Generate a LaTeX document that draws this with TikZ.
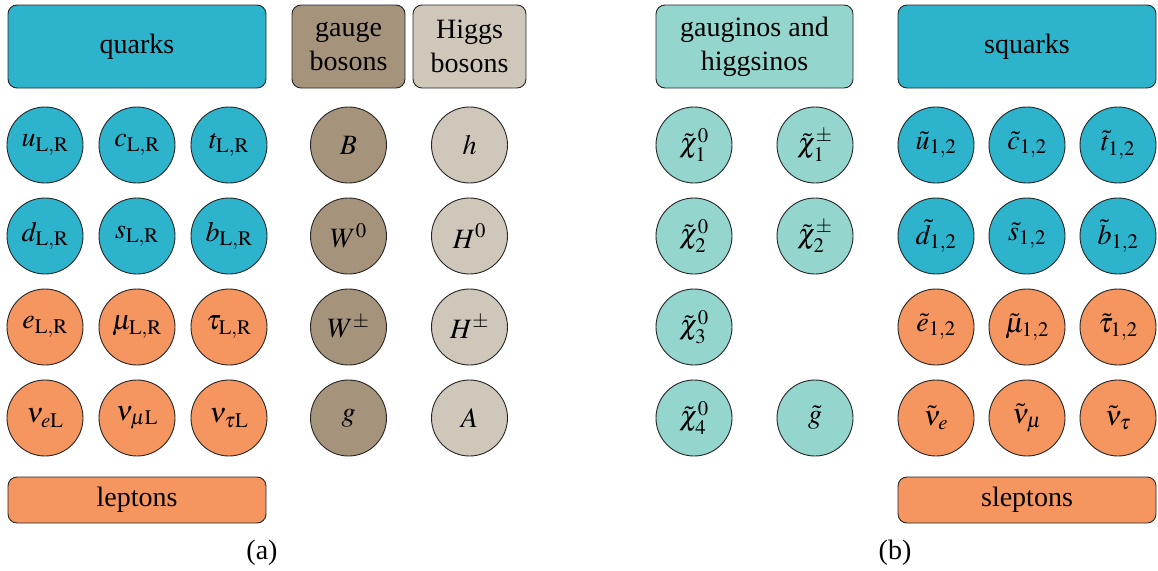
\documentclass[tikz,border=0pt]{standalone}
\usepackage{mathptmx}
\usepackage[no-math]{fontspec}
\setmainfont{Liberation Serif}
\newfontfamily\tnr{Liberation Serif}
\definecolor{cquark}{HTML}{2EB3CD}
\definecolor{clepton}{HTML}{F5955F}
\definecolor{cgauge}{HTML}{A6937C}
\definecolor{chiggs}{HTML}{D0C7BB}
\definecolor{cino}{HTML}{94D5CD}
\begin{document}
\begin{tikzpicture}[x=1pt,y=-1pt,
  every node/.style={font=\tnr\fontsize{28}{34}\selectfont},
  part/.style={circle,draw=black!85,line width=0.9pt,minimum size=76pt,inner sep=0pt},
  group/.style={draw=black!85,line width=0.9pt,rounded corners=9pt,inner sep=0pt,align=center,minimum height=83pt},
  lowgroup/.style={group,minimum height=46pt,minimum width=258pt},
  caplabel/.style={inner sep=0pt}]
\useasboundingbox (0,0) rectangle (1158,570);
% ---------- (a) ----------
\node[group,fill=cquark,minimum width=258pt] (quarks) at (137,46.5) {quarks};
\node[group,fill=cgauge,minimum width=113pt] (gauge) at (348.5,46.5) {gauge\\bosons};
\node[group,fill=chiggs,minimum width=113pt] (higgs) at (469.5,46.5) {Higgs\\bosons};
\node[lowgroup,fill=clepton] (leptons) at (137,500) {leptons};
\node[part,fill=cquark] (u) at (45,145) {$u_{\mathrm{L,R}}$};
\node[part,fill=cquark] (c) at (137,145) {$c_{\mathrm{L,R}}$};
\node[part,fill=cquark] (t) at (229,145) {$t_{\mathrm{L,R}}$};
\node[part,fill=cquark] (d) at (45,236) {$d_{\mathrm{L,R}}$};
\node[part,fill=cquark] (s) at (137,236) {$s_{\mathrm{L,R}}$};
\node[part,fill=cquark] (b) at (229,236) {$b_{\mathrm{L,R}}$};
\node[part,fill=clepton] (e) at (45,327) {$e_{\mathrm{L,R}}$};
\node[part,fill=clepton] (mu) at (137,327) {$\mu_{\mathrm{L,R}}$};
\node[part,fill=clepton] (tau) at (229,327) {$\tau_{\mathrm{L,R}}$};
\node[part,fill=clepton] (nue) at (45,418) {$\nu_{e\mathrm{L}}$};
\node[part,fill=clepton] (numu) at (137,418) {$\nu_{\mu\mathrm{L}}$};
\node[part,fill=clepton] (nutau) at (229,418) {$\nu_{\tau\mathrm{L}}$};
\node[part,fill=cgauge] (B) at (348.5,145) {$B$};
\node[part,fill=cgauge] (W0) at (348.5,236) {$W^0$};
\node[part,fill=cgauge] (Wpm) at (348.5,327) {$W^\pm$};
\node[part,fill=cgauge] (g) at (348.5,418) {$g$};
\node[part,fill=chiggs] (h) at (469.5,145) {$h$};
\node[part,fill=chiggs] (H0) at (469.5,236) {$H^0$};
\node[part,fill=chiggs] (Hpm) at (469.5,327) {$H^\pm$};
\node[part,fill=chiggs] (A) at (469.5,418) {$A$};
\node[caplabel] (capa) at (262,553) {(a)};
% ---------- (b) ----------
\node[group,fill=cino,minimum width=197pt] (inos) at (754.5,46.5) {gauginos and\\higgsinos};
\node[group,fill=cquark,minimum width=258pt] (squarks) at (1027,46.5) {squarks};
\node[lowgroup,fill=clepton] (sleptons) at (1027,500) {sleptons};
\node[part,fill=cino] (n1) at (694,145) {$\tilde\chi^0_1$};
\node[part,fill=cino] (c1) at (815,145) {$\tilde\chi^\pm_1$};
\node[part,fill=cino] (n2) at (694,236) {$\tilde\chi^0_2$};
\node[part,fill=cino] (c2) at (815,236) {$\tilde\chi^\pm_2$};
\node[part,fill=cino] (n3) at (694,327) {$\tilde\chi^0_3$};
\node[part,fill=cino] (n4) at (694,418) {$\tilde\chi^0_4$};
\node[part,fill=cino] (gl) at (815,418) {$\tilde g$};
\node[part,fill=cquark] (su) at (936,145) {$\tilde u_{1,2}$};
\node[part,fill=cquark] (sc) at (1027,145) {$\tilde c_{1,2}$};
\node[part,fill=cquark] (st) at (1118,145) {$\tilde t_{1,2}$};
\node[part,fill=cquark] (sd) at (936,236) {$\tilde d_{1,2}$};
\node[part,fill=cquark] (ss) at (1027,236) {$\tilde s_{1,2}$};
\node[part,fill=cquark] (sb) at (1118,236) {$\tilde b_{1,2}$};
\node[part,fill=clepton] (se) at (936,327) {$\tilde e_{1,2}$};
\node[part,fill=clepton] (smu) at (1027,327) {$\tilde\mu_{1,2}$};
\node[part,fill=clepton] (stau) at (1118,327) {$\tilde\tau_{1,2}$};
\node[part,fill=clepton] (snue) at (936,418) {$\tilde\nu_e$};
\node[part,fill=clepton] (snumu) at (1027,418) {$\tilde\nu_\mu$};
\node[part,fill=clepton] (snutau) at (1118,418) {$\tilde\nu_\tau$};
\node[caplabel] (capb) at (895,553) {(b)};
\end{tikzpicture}
\end{document}
